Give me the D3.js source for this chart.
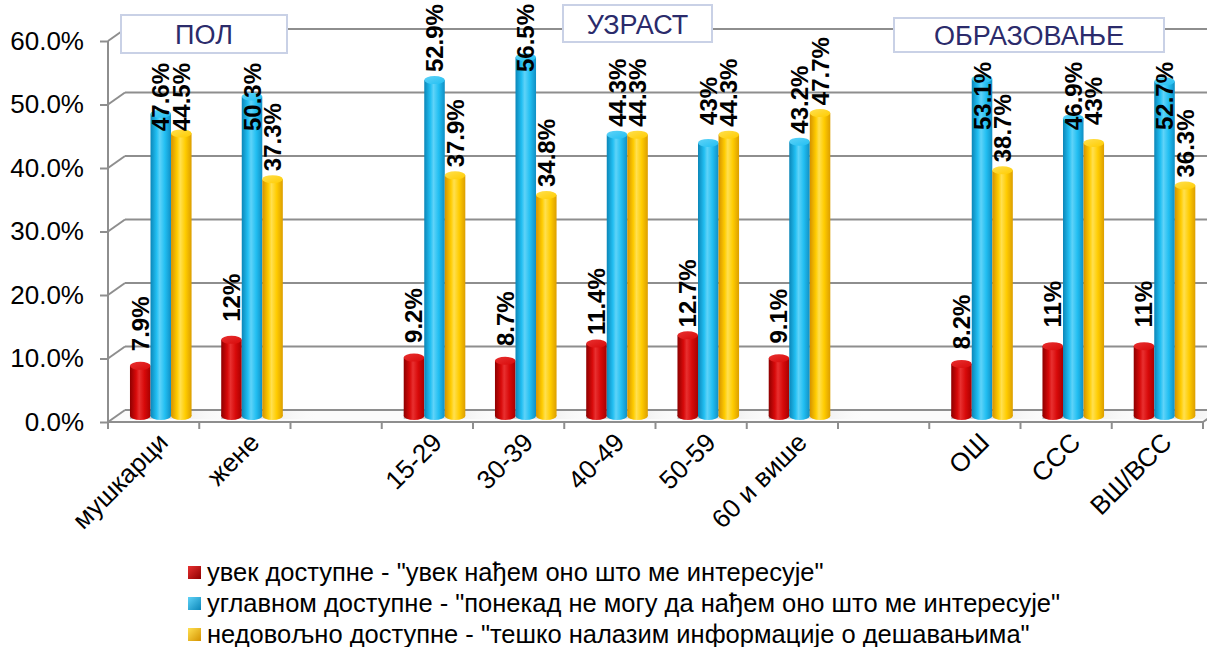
<!DOCTYPE html>
<html>
<head>
<meta charset="utf-8">
<script src="https://cdn.jsdelivr.net/npm/d3@7"></script>
<style>
  html, body { margin: 0; padding: 0; background: #ffffff; }
  svg { display: block; font-family: Arial, "Liberation Sans", sans-serif; }
</style>
</head>
<body>
<svg id="chart" width="1207" height="647"></svg>
<script>
// ---------- DATA ----------
const categories = ["мушкарци", "жене", "", "15-29", "30-39", "40-49", "50-59", "60 и више", "", "ОШ", "ССС", "ВШ/ВСС"];
const seriesNames = [
  "увек доступне - \"увек нађем оно што ме интересује\"",
  "углавном доступне - \"понекад не могу да нађем оно што ме интересује\"",
  "недовољно доступне - \"тешко налазим информације о дешавањима\""
];
const alwaysAvailable   = [7.9, 12,   null, 9.2,  8.7,  11.4, 12.7, 9.1,  null, 8.2,  11,   11];
const mostlyAvailable   = [47.6, 50.3, null, 52.9, 56.5, 44.3, 43,   43.2, null, 53.1, 46.9, 52.7];
const notEnoughAvailable= [44.5, 37.3, null, 37.9, 34.8, 44.3, 44.3, 47.7, null, 38.7, 43,   36.3];
const yTicks = [0, 10, 20, 30, 40, 50, 60];
const groupLabels = ["ПОЛ", "УЗРАСТ", "ОБРАЗОВАЊЕ"];

// ---------- LAYOUT ----------
const svg = d3.select("#chart");
const frontLeft = 108, frontRight = 1203, floorY = 422, topY = 41;
const depthDx = 17, depthDy = -12;

const yFront = d3.scaleLinear().domain([0, 60]).range([floorY, topY]);
const yBack  = v => yFront(v) + depthDy;
const yBar   = v => yFront(v) + depthDy / 2;

const x = d3.scaleBand().domain(d3.range(categories.length)).range([frontLeft, frontRight]).padding(0);
const bw = x.bandwidth();
const barW = bw * 0.225;
const groupOffset = (bw - 3 * barW) / 2 + depthDx * 0.42;
const sub = d3.scaleBand().domain([0, 1, 2]).range([groupOffset, groupOffset + 3 * barW]).padding(0);

const seriesData = [alwaysAvailable, mostlyAvailable, notEnoughAvailable];
const palettes = [
  { dark: "#8e0000", mid: "#d80a0a", light: "#e83030", right: "#a80000" },
  { dark: "#0b86b8", mid: "#22bff2", light: "#5fd3f8", right: "#108fc4" },
  { dark: "#d49200", mid: "#ffcc00", light: "#ffe050", right: "#dc9e00" }
];

const defs = svg.append("defs");
palettes.forEach((p, i) => {
  const g = defs.append("linearGradient").attr("id", "cyl" + i).attr("x1", "0").attr("x2", "1").attr("y1", "0").attr("y2", "0");
  g.append("stop").attr("offset", "0%").attr("stop-color", p.dark);
  g.append("stop").attr("offset", "30%").attr("stop-color", p.mid);
  g.append("stop").attr("offset", "45%").attr("stop-color", p.light);
  g.append("stop").attr("offset", "70%").attr("stop-color", p.mid);
  g.append("stop").attr("offset", "100%").attr("stop-color", p.right);
  const gt = defs.append("linearGradient").attr("id", "cyltop" + i).attr("x1", "0").attr("x2", "1").attr("y1", "0").attr("y2", "1");
  gt.append("stop").attr("offset", "0%").attr("stop-color", p.light);
  gt.append("stop").attr("offset", "100%").attr("stop-color", p.mid);
  const lg = defs.append("linearGradient").attr("id", "leg" + i).attr("x1", "0").attr("x2", "1").attr("y1", "0").attr("y2", "1");
  lg.append("stop").attr("offset", "0%").attr("stop-color", p.light);
  lg.append("stop").attr("offset", "100%").attr("stop-color", p.dark);
});
const sh = defs.append("linearGradient").attr("id", "shadow").attr("x1", "0").attr("x2", "1").attr("y1", "0").attr("y2", "0");
sh.append("stop").attr("offset", "0%").attr("stop-color", "#8a8a8a").attr("stop-opacity", 0.55);
sh.append("stop").attr("offset", "100%").attr("stop-color", "#ffffff").attr("stop-opacity", 0);

const gridColor = "#8e8e8e";

// ---------- WALLS / GRID ----------
const grid = svg.append("g");
grid.append("polygon")
  .attr("points", [[frontLeft, floorY], [frontRight, floorY], [frontRight + depthDx, floorY + depthDy], [frontLeft + depthDx, floorY + depthDy]].map(p => p.join(",")).join(" "))
  .attr("fill", "#fbfbfb");
categories.forEach((c, i) => {
  if (alwaysAvailable[i] == null) return;
  const gx = x(i) + sub(2) + barW;
  grid.append("rect").attr("x", x(i) + sub(0)).attr("y", floorY + depthDy + 1)
    .attr("width", gx - x(i) - sub(0) + 38).attr("height", 8).attr("fill", "url(#shadow)");
});
grid.selectAll("line.hg").data(yTicks).join("line").attr("class", "hg")
  .attr("x1", frontLeft + depthDx).attr("x2", 1207)
  .attr("y1", d => yBack(d)).attr("y2", d => yBack(d))
  .attr("stroke", gridColor).attr("stroke-width", 2);
grid.selectAll("line.sg").data(yTicks).join("line").attr("class", "sg")
  .attr("x1", frontLeft).attr("x2", frontLeft + depthDx)
  .attr("y1", d => yFront(d)).attr("y2", d => yBack(d))
  .attr("stroke", gridColor).attr("stroke-width", 2);
grid.append("line").attr("x1", frontLeft).attr("x2", frontLeft)
  .attr("y1", yFront(0)).attr("y2", yFront(60)).attr("stroke", gridColor).attr("stroke-width", 2);
grid.append("line").attr("x1", frontLeft).attr("x2", frontRight)
  .attr("y1", floorY).attr("y2", floorY).attr("stroke", gridColor).attr("stroke-width", 2);
grid.append("line").attr("x1", frontRight).attr("x2", frontRight + depthDx)
  .attr("y1", floorY).attr("y2", floorY + depthDy).attr("stroke", gridColor).attr("stroke-width", 2);

// ---------- Y AXIS ----------
const yAxis = d3.axisLeft(yFront).tickValues(yTicks).tickSize(8).tickPadding(16)
  .tickFormat(d => d.toFixed(1) + "%");
const ya = svg.append("g").attr("transform", `translate(${frontLeft},0)`).call(yAxis);
ya.select(".domain").remove();
ya.selectAll(".tick line").attr("stroke", gridColor).attr("stroke-width", 2);
ya.selectAll(".tick text").attr("font-size", 26).attr("fill", "#000").attr("font-family", "Arial, 'Liberation Sans', sans-serif");

// ---------- X AXIS ----------
const xa = svg.append("g");
xa.selectAll("line").data(d3.range(categories.length + 1)).join("line")
  .attr("x1", i => frontLeft + i * x.step()).attr("x2", i => frontLeft + i * x.step())
  .attr("y1", floorY).attr("y2", floorY + 7)
  .attr("stroke", gridColor).attr("stroke-width", 2);
xa.selectAll("text").data(categories.map((c, i) => ({ c, i })).filter(d => d.c !== "")).join("text")
  .attr("transform", d => `translate(${x(d.i) + bw / 2 + 16},${floorY + 22}) rotate(-45)`)
  .attr("text-anchor", "end")
  .attr("font-size", 26)
  .attr("fill", "#000")
  .text(d => d.c);

// ---------- BARS (cylinders) ----------
const bars = svg.append("g");
const barItems = [];
seriesData.forEach((arr, s) => {
  arr.forEach((v, i) => { if (v != null) barItems.push({ s, i, v }); });
});
const ry = 4;
const bg = bars.selectAll("g.bar").data(barItems).join("g").attr("class", "bar");
bg.append("ellipse")
  .attr("cx", d => x(d.i) + sub(d.s) + barW / 2).attr("cy", yBar(0))
  .attr("rx", barW / 2).attr("ry", ry).attr("fill", d => `url(#cyl${d.s})`);
bg.append("rect")
  .attr("x", d => x(d.i) + sub(d.s)).attr("width", barW)
  .attr("y", d => yBar(d.v)).attr("height", d => yBar(0) - yBar(d.v))
  .attr("fill", d => `url(#cyl${d.s})`);
bg.append("ellipse")
  .attr("cx", d => x(d.i) + sub(d.s) + barW / 2).attr("cy", d => yBar(d.v))
  .attr("rx", barW / 2).attr("ry", ry).attr("fill", d => `url(#cyltop${d.s})`);

// ---------- GROUP BOXES (geometry) ----------
const boxes = [
  { x: 121, y: 15, w: 166, h: 38 },
  { x: 563, y: 5, w: 149, h: 37 },
  { x: 894, y: 18, w: 270, h: 34 }
];

// ---------- VALUE LABELS ----------
const fmt = v => String(v) + "%";
const labels = svg.append("g");
labels.selectAll("text").data(barItems).join("text")
  .attr("font-size", 24).attr("font-weight", "bold").attr("fill", "#000")
  .attr("text-anchor", "middle").attr("dominant-baseline", "central")
  .text(d => fmt(d.v))
  .each(function (d) {
    const len = this.getComputedTextLength();
    const cx = x(d.i) + sub(d.s) + barW / 2;
    let cy = yBar(d.v) - 42;
    if (cy - len / 2 < 4) cy = 4 + len / 2;
    boxes.forEach(b => {
      const minTop = b.y + b.h + 10;
      if (cx > b.x - 12 && cx < b.x + b.w + 12 && cy - len / 2 < minTop) cy = minTop + len / 2;
    });
    d3.select(this).attr("transform", `translate(${cx},${cy}) rotate(-90)`);
  });

// ---------- GROUP BOXES (drawn) ----------
const bx = svg.append("g");
groupLabels.forEach((t, k) => {
  const b = boxes[k];
  bx.append("rect").attr("x", b.x).attr("y", b.y).attr("width", b.w).attr("height", b.h)
    .attr("fill", "#fff").attr("stroke", "#c9d1e6").attr("stroke-width", 2);
  bx.append("text").attr("x", b.x + b.w / 2).attr("y", b.y + b.h / 2 + 1)
    .attr("text-anchor", "middle").attr("dominant-baseline", "central")
    .attr("font-size", 27).attr("fill", "#2b2b6b").text(t);
});

// ---------- LEGEND ----------
const legend = svg.append("g");
seriesNames.forEach((n, i) => {
  const by = 581 + i * 31;
  legend.append("rect").attr("x", 188).attr("y", by - 15).attr("width", 13).attr("height", 13)
    .attr("fill", `url(#leg${i})`);
  legend.append("text").attr("x", 207).attr("y", by).attr("font-size", 25.5).attr("fill", "#000").text(n);
});
</script>
</body>
</html>
